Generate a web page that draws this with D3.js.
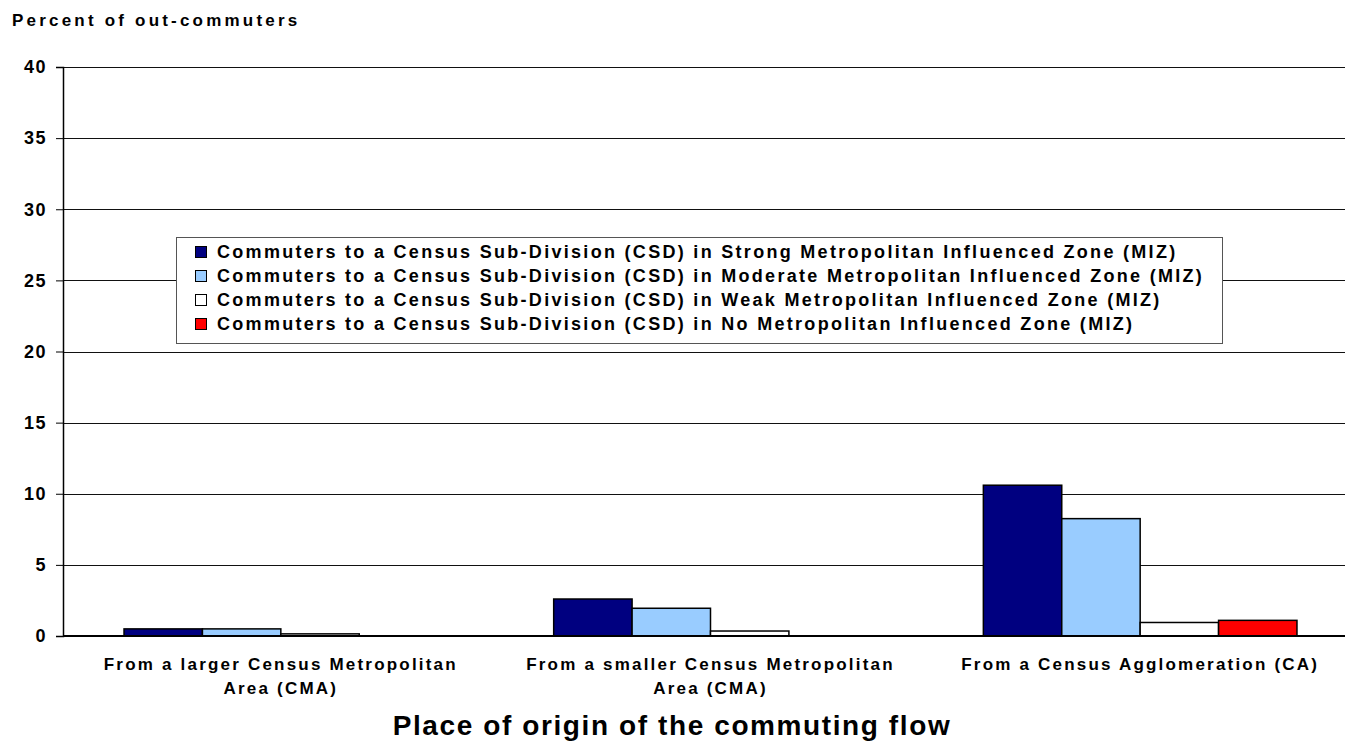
<!DOCTYPE html>
<html>
<head>
<meta charset="utf-8">
<script src="https://cdn.jsdelivr.net/npm/d3@7"></script>
<style>
  body { margin: 0; background: #fff; }
  text { font-family: Arial, "Liberation Sans", sans-serif; font-weight: bold; fill: #000; }
</style>
</head>
<body>
<div id="chart"></div>
<script>
// categories (x axis), two lines each
var categories = ["larger", "smaller", "ca"];
var categoryLabels = [
    ["From a larger Census Metropolitan", "Area (CMA)"],
    ["From a smaller Census Metropolitan", "Area (CMA)"],
    ["From a Census Agglomeration (CA)"]
];
var seriesNames = [
    "Commuters to a Census Sub-Division (CSD) in Strong Metropolitan Influenced Zone (MIZ)",
    "Commuters to a Census Sub-Division (CSD) in Moderate Metropolitan Influenced Zone (MIZ)",
    "Commuters to a Census Sub-Division (CSD) in Weak Metropolitan Influenced Zone (MIZ)",
    "Commuters to a Census Sub-Division (CSD) in No Metropolitan Influenced Zone (MIZ)"
];
var seriesColors = ["#000080", "#99ccff", "#ffffff", "#ff0000"];
var strong = [0.5, 2.6, 10.6];
var moderate = [0.5, 1.95, 8.25];
var weak = [0.15, 0.35, 0.95];
var none = [0, 0, 1.1];
var yTicks = [0, 5, 10, 15, 20, 25, 30, 35, 40];

var seriesValues = [strong, moderate, weak, none];

var width = 1345, height = 742;
var plotLeft = 63, plotTop = 67, plotBottom = 636;

var svg = d3.select('#chart')
    .append('svg')
    .attr('width', width)
    .attr('height', height);

var y = d3.scaleLinear()
    .domain([0, 40])
    .range([plotBottom, plotTop]);

var x0 = d3.scaleBand()
    .domain(categories)
    .range([66, 1355])
    .padding(0);

var x1 = d3.scaleBand()
    .domain(d3.range(seriesNames.length))
    .range([0, x0.bandwidth()])
    .paddingInner(0)
    .paddingOuter(0.74);

// gridlines
svg.append('g')
    .selectAll('line')
    .data(yTicks.filter(function(d) { return d > 0; }))
    .enter()
    .append('line')
    .attr('x1', plotLeft)
    .attr('x2', width)
    .attr('y1', function(d) { return Math.round(y(d)) + 0.5; })
    .attr('y2', function(d) { return Math.round(y(d)) + 0.5; })
    .attr('stroke', '#111')
    .attr('stroke-width', 1);

// bars
var groups = svg.append('g')
    .selectAll('g')
    .data(categories)
    .enter()
    .append('g')
    .attr('transform', function(d) { return 'translate(' + x0(d) + ',0)'; });

groups.selectAll('rect')
    .data(function(d, i) {
        return seriesValues.map(function(s, j) { return {s: j, v: s[i]}; })
            .filter(function(e) { return e.v > 0; });
    })
    .enter()
    .append('rect')
    .attr('x', function(d) { return x1(d.s); })
    .attr('width', x1.bandwidth())
    .attr('y', function(d) { return y(d.v); })
    .attr('height', function(d) { return plotBottom - y(d.v); })
    .attr('fill', function(d) { return seriesColors[d.s]; })
    .attr('stroke', '#000')
    .attr('stroke-width', 1.5);

// y axis
var yAxis = svg.append('g')
    .attr('transform', 'translate(' + plotLeft + ',0)')
    .call(d3.axisLeft(y).tickValues(yTicks).tickSize(7).tickPadding(9));
yAxis.select('.domain').attr('stroke', '#000').attr('stroke-width', 1.5);
yAxis.selectAll('.tick line').attr('stroke', '#000');
yAxis.selectAll('text')
    .style('font-size', '18px')
    .style('font-weight', 'bold')
    .style('letter-spacing', '1.5px')
    .style('font-family', 'Arial, "Liberation Sans", sans-serif');

// x baseline
svg.append('line')
    .attr('x1', plotLeft)
    .attr('x2', width)
    .attr('y1', plotBottom)
    .attr('y2', plotBottom)
    .attr('stroke', '#000')
    .attr('stroke-width', 2);

// x category labels
svg.append('g')
    .selectAll('text')
    .data(categories)
    .enter()
    .append('text')
    .attr('text-anchor', 'middle')
    .attr('y', 670)
    .style('font-size', '17px')
    .style('letter-spacing', '2.2px')
    .each(function(d, i) {
        var t = d3.select(this);
        categoryLabels[i].forEach(function(line, k) {
            t.append('tspan')
                .attr('x', x0(d) + x0.bandwidth() / 2)
                .attr('dy', k == 0 ? 0 : 24)
                .text(line);
        });
    });

// axis titles
svg.append('text')
    .attr('x', 672)
    .attr('y', 735)
    .attr('text-anchor', 'middle')
    .style('font-size', '28px')
    .style('letter-spacing', '1.6px')
    .text('Place of origin of the commuting flow');

svg.append('text')
    .attr('x', 12)
    .attr('y', 26)
    .style('font-size', '17px')
    .style('letter-spacing', '3.2px')
    .text('Percent of out-commuters');

// legend
var legend = svg.append('g');
legend.append('rect')
    .attr('x', 176.5)
    .attr('y', 237.5)
    .attr('width', 1046)
    .attr('height', 106)
    .attr('fill', '#fff')
    .attr('stroke', '#555')
    .attr('stroke-width', 1);

var items = legend.selectAll('g.item')
    .data(seriesNames)
    .enter()
    .append('g')
    .attr('class', 'item')
    .attr('transform', function(d, i) { return 'translate(0,' + (258 + i * 24) + ')'; });

items.append('rect')
    .attr('x', 195.5)
    .attr('y', -11.5)
    .attr('width', 11)
    .attr('height', 11)
    .attr('fill', function(d, i) { return seriesColors[i]; })
    .attr('stroke', '#000')
    .attr('stroke-width', 1);

items.append('text')
    .attr('x', 217)
    .attr('y', 0)
    .style('font-size', '18px')
    .style('letter-spacing', '2.3px')
    .text(function(d) { return d; });
</script>
</body>
</html>
